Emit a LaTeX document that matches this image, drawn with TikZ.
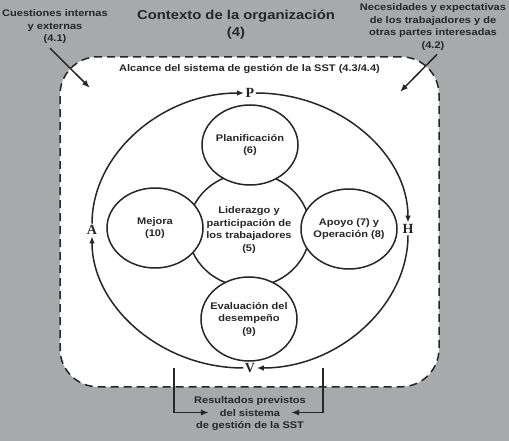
\documentclass[tikz,border=0pt]{standalone}
\usepackage{fontspec}
\newfontfamily\diagfont{Liberation Sans}[FakeStretch=1.15]
\newfontfamily\pdcafont{Liberation Serif}
\usepackage{tikz}
\usetikzlibrary{shapes.geometric, arrows.meta, positioning}
\definecolor{bggrey}{RGB}{167,169,171}
\definecolor{inkgrey}{RGB}{38,38,38}

\begin{document}
\begin{tikzpicture}[
  x=1pt, y=-1pt,
  txt/.style={font=\diagfont\bfseries\fontsize{9.6}{12.5}\selectfont, text=inkgrey,
              align=center, inner sep=0pt},
  title/.style={font=\diagfont\bfseries\fontsize{12.9}{17}\selectfont, text=inkgrey,
                align=center, inner sep=0pt},
  scopebox/.style={rectangle, draw=inkgrey, line width=1.5pt, dash pattern=on 8pt off 5pt,
                   fill=white, rounded corners=38pt, inner sep=0pt},
  bubble/.style={txt, ellipse, draw=inkgrey, line width=1.5pt, fill=white,
                 inner xsep=-8pt, inner ysep=0pt, minimum width=96pt, minimum height=80pt},
  pdca/.style={font=\pdcafont\bfseries\fontsize{14}{16}\selectfont, text=inkgrey, inner sep=1.5pt},
  cycle/.style={-{Latex[length=7pt,width=5.5pt]}, line width=1.5pt, draw=inkgrey},
  feed/.style={-{Latex[length=8pt,width=6pt]}, line width=1.5pt, draw=inkgrey}
]
% --- background and scope ---
\fill[bggrey] (0,0) rectangle (509,441);
\node[scopebox, minimum width=379pt, minimum height=330pt] (alcance) at (249.5,221.8) {};
\node[txt, below=8pt of alcance.north] (alcancelbl) {Alcance del sistema de gesti\'on de la SST (4.3/4.4)};

% --- context texts ---
\node[title] (contexto) at (236,25) {Contexto de la organizaci\'on\\(4)};
\node[txt] (cuest) at (55,27) {Cuestiones internas\\y externas\\(4.1)};
\node[txt] (neces) at (433,27) {Necesidades y expectativas\\de los trabajadores y de\\otras partes interesadas\\(4.2)};
\coordinate (cuestEnd) at (90,88);
\coordinate (necesEnd) at (400,92);

% --- circles ---
\node[bubble, minimum width=122pt, minimum height=114pt] (lider) at (249,230)
  {Liderazgo y\\participaci\'on de\\los trabajadores\\(5)};
\node[bubble] (plan) at (250,145) {Planificaci\'on\\(6)};
\node[bubble] (apoyo) at (349,229) {Apoyo (7) y\\Operaci\'on (8)};
\node[bubble, minimum height=84pt] (evalua) at (249,319) {Evaluaci\'on del\\desempe\~no\\(9)};
\node[bubble] (mejora) at (155,228) {Mejora\\(10)};

% --- PHVA labels ---
\node[pdca] (P) at (250,93) {P};
\node[pdca] (H) at (408,229) {H};
\node[pdca] (V) at (250,368) {V};
\node[pdca] (A) at (92,230) {A};

% --- result ---
\node[txt] (result) at (250,414) {Resultados previstos\\del sistema\\de gesti\'on de la SST};
\coordinate (vL) at (174,368);
\coordinate (vR) at (323,368);

% Cycle arrows
\draw[cycle] (A.north) .. controls +(0,-70) and +(-82,0) .. (P.west);
\draw[cycle] (P.east) .. controls +(82,0) and +(0,-70) .. (H.north);
\draw[cycle] (H.south) .. controls +(0,70) and +(82,0) .. (V.east);
\draw[cycle] (V.west) .. controls +(-82,0) and +(0,70) .. (A.south);

% Input and output arrows
\draw[feed] ([xshift=-5pt,yshift=-4pt]cuest.south) -- (cuestEnd);
\draw[feed] ([xshift=4pt,yshift=-4pt]neces.south) -- (necesEnd);
\draw[feed] (vL) |- ([xshift=15pt,yshift=1.5pt]result.west);
\draw[feed] (vR) |- ([xshift=-15pt,yshift=1.5pt]result.east);

\end{tikzpicture}
\end{document}
